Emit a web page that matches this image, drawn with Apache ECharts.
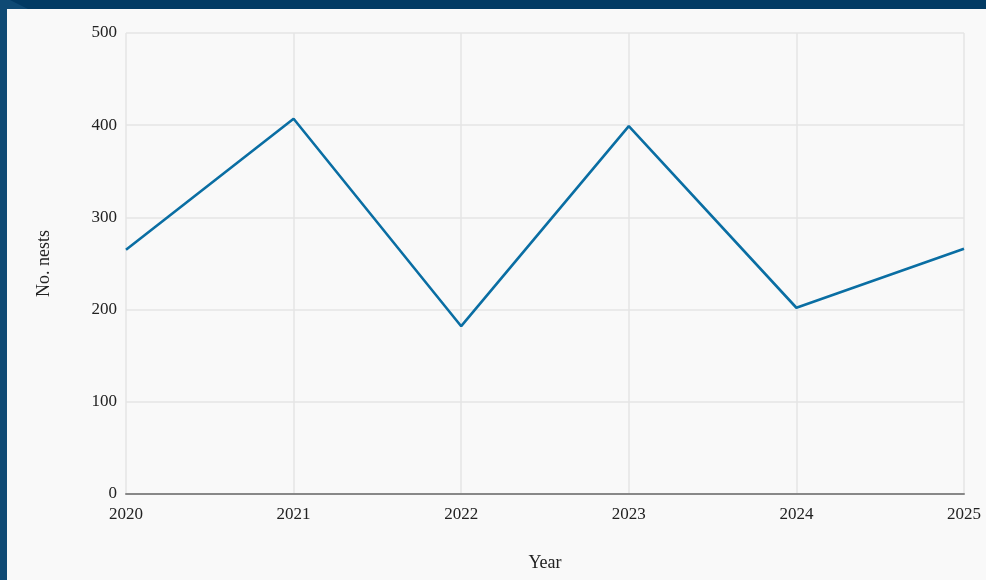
<!DOCTYPE html>
<html><head><meta charset="utf-8">
<script src="https://cdn.jsdelivr.net/npm/echarts@6/dist/echarts.min.js"></script>
<style>html,body{margin:0;padding:0;background:#f9f9f9}#c{width:986px;height:580px}</style>
</head><body><div id="c"></div>
<script>
const years = ['2020','2021','2022','2023','2024','2025'];
const nests = [265, 407, 182, 399, 202, 266];
const yTicks = [0, 100, 200, 300, 400, 500];

const chart = echarts.init(document.getElementById('c'));
const font = '"Liberation Serif", "DejaVu Serif", serif';
chart.setOption({
  backgroundColor: '#f9f9f9',
  animation: false,
  graphic: [
    {type:'rect', left:0, top:0, shape:{width:986, height:9}, style:{fill:'#023a63'}, z:10},
    {type:'rect', left:0, top:0, shape:{width:7, height:580}, style:{fill:'#0f4a74'}, z:10},
    {type:'polygon', shape:{points:[[0,0],[10,0],[28,9],[0,9]]}, style:{fill:'#0f4a74'}, z:11}
  ],
  grid: {left:126, right:22, top:33, bottom:86},
  xAxis: {
    type:'category', data: years, boundaryGap:false,
    name:'Year', nameLocation:'middle', nameGap:60,
    nameTextStyle:{fontFamily:font, fontSize:18, color:'#222'},
    axisLine:{show:true, lineStyle:{color:'#888', width:2}},
    axisTick:{show:false},
    axisLabel:{fontFamily:font, fontSize:17, color:'#222', margin:12},
    splitLine:{show:true, lineStyle:{color:'#e4e4e4', width:1.5}}
  },
  yAxis: {
    type:'value', min:yTicks[0], max:yTicks[yTicks.length-1], interval:100,
    name:'No. nests', nameLocation:'middle', nameGap:73,
    nameTextStyle:{fontFamily:font, fontSize:18, color:'#222'},
    axisLine:{show:false}, axisTick:{show:false},
    axisLabel:{fontFamily:font, fontSize:17, color:'#222', margin:9},
    splitLine:{show:true, lineStyle:{color:'#e4e4e4', width:1.5}}
  },
  series: [{
    type:'line', data: nests, symbol:'none',
    lineStyle:{color:'#0a6ea3', width:2.6}
  }]
});
</script></body></html>
